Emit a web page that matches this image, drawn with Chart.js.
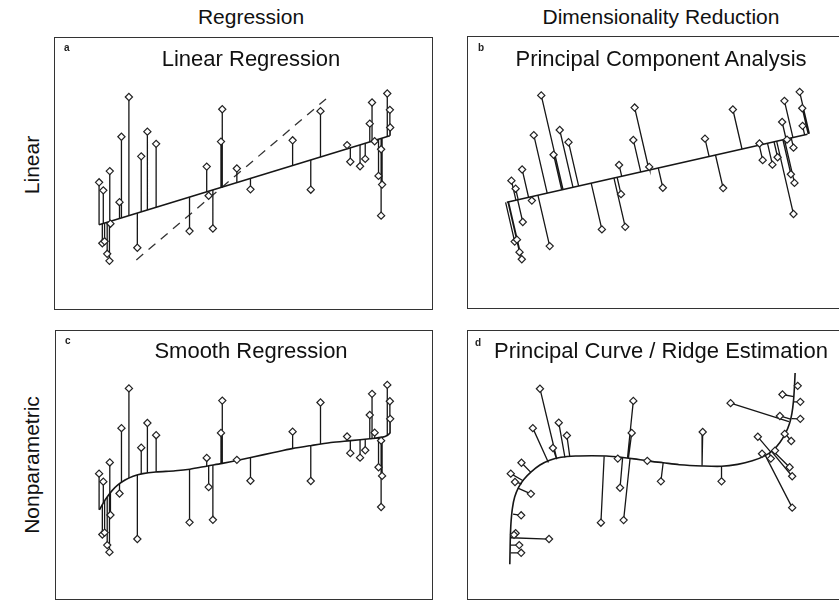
<!DOCTYPE html>
<html>
<head>
<meta charset="utf-8">
<title>Regression and dimensionality reduction</title>
<script src="https://cdn.jsdelivr.net/npm/chart.js@4.4.0/dist/chart.umd.min.js"></script>
<style>
  html, body { margin: 0; padding: 0; background: #fff; }
  body {
    width: 839px; height: 601px; position: relative; overflow: hidden;
    font-family: "Liberation Sans", Arial, sans-serif; color: #111;
  }
  .txt { position: absolute; white-space: nowrap; line-height: 1; }
  .head { font-size: 21px; transform: translateX(-50%); }
  .row { font-size: 21px; transform: translate(-50%, -50%) rotate(-90deg); }
  .title { font-size: 22px; transform: translateX(-50%); }
  .tag { font-size: 10px; font-weight: bold; color: #222; }
  canvas { position: absolute; }
  .frame { position: absolute; box-sizing: border-box; border: 1px solid #333; pointer-events: none; }
</style>
</head>
<body>

<div class="txt head" style="left:251px; top:6px;">Regression</div>
<div class="txt head" style="left:661px; top:6px;">Dimensionality Reduction</div>
<div class="txt row" style="left:31px; top:165px;">Linear</div>
<div class="txt row" style="left:31px; top:465px;">Nonparametric</div>

<canvas id="panelA"></canvas>
<canvas id="panelB"></canvas>
<canvas id="panelC"></canvas>
<canvas id="panelD"></canvas>

<div class="frame" style="left:54px; top:37px; width:379px; height:273px;"></div>
<div class="frame" style="left:467px; top:36px; width:380px; height:273px;"></div>
<div class="frame" style="left:55px; top:330px; width:378px; height:270px;"></div>
<div class="frame" style="left:467px; top:330px; width:380px; height:270px;"></div>

<div class="txt tag" style="left:64px; top:43px;">a</div>
<div class="txt tag" style="left:478px; top:43px;">b</div>
<div class="txt tag" style="left:65px; top:336px;">c</div>
<div class="txt tag" style="left:475px; top:338px;">d</div>

<div class="txt title" style="left:251px; top:48px;">Linear Regression</div>
<div class="txt title" style="left:661px; top:48px;">Principal Component Analysis</div>
<div class="txt title" style="left:251px; top:340px;">Smooth Regression</div>
<div class="txt title" style="left:661px; top:340px;">Principal Curve / Ridge Estimation</div>

<script>
// ---------------------------------------------------------------
// DATA (picture units, y grows downwards)
// ---------------------------------------------------------------

// sample shared by panels a, b, c
const sampleX = [165, 178, 198, 228, 234, 257, 295, 314, 341, 497, 545, 541, 590, 762, 848, 930, 1000, 1007, 1015, 1054, 1062, 1063,
                 175, 182, 190, 197, 200, 283, 444, 503, 516, 632, 818, 940, 970, 986, 1027, 1038, 1035, 1035];
const sampleY = [458, 483, 423, 520, 316, 192, 377, 300, 338, 409, 230, 331, 415, 327, 236, 342, 275, 209, 330, 181, 232, 287,
                 648, 642, 681, 703, 587, 662, 610, 500, 602, 480, 481, 394, 408, 385, 438, 465, 562, 355];

// a: least squares line and the dashed line
const regLineX = [165, 1062];
const regLineY = [590, 313];
const dashLineX = [280, 865];
const dashLineY = [700, 198];

// b: first principal component
const pcaLineX = [151, 1078];
const pcaLineY = [525, 313];

// c: smooth regression curve
const smoothX = [166, 180, 192, 205, 222, 245, 270, 300, 340, 400, 445, 500, 545, 590, 640, 700, 760, 820, 880, 940, 1000, 1040, 1055, 1063];
const smoothY = [571, 546, 528, 511, 494, 478, 466, 458, 453, 449, 444, 434, 426, 417, 406, 393, 380, 370, 361, 355, 349, 344, 338, 331];

// d: sample, its projections on the curve, and the principal curve
const ringX = [290, 268, 348, 330, 373, 233, 200, 213, 262, 232, 215, 210, 318, 226, 232, 478, 530, 537, 548, 573,
               578, 621, 663, 792, 850, 878, 1030, 1093, 1038, 1085, 1093, 1045, 1065, 962, 975, 1002, 1015, 1060, 1068, 1068];
const ringY = [227, 350, 333, 412, 373, 458, 492, 518, 555, 622, 678, 683, 696, 715, 739, 645, 445, 536, 637, 365,
               265, 452, 516, 362, 516, 272, 312, 321, 245, 218, 268, 368, 390, 377, 430, 445, 420, 472, 500, 598];
const ringFootX = [342, 316, 367, 341, 382, 262, 238, 234, 222, 207, 201, 201, 200, 199, 199, 488, 530, 545, 568, 563,
                   560, 621, 670, 790, 850, 1058, 1063, 1066, 1073, 1075, 1072, 1048, 1047, 1002, 985, 998, 1012, 1010, 1006, 985];
const ringFootY = [447, 457, 441, 446, 439, 488, 514, 524, 537, 618, 680, 685, 692, 715, 739, 438, 441, 442, 444, 443,
                   443, 452, 458, 467, 470, 330, 322, 320, 252, 218, 268, 365, 368, 425, 436, 428, 418, 422, 425, 435];
const ridgeX = [197, 198, 199, 201, 205, 212, 224, 240, 262, 290, 320, 355, 400, 450, 495, 540, 580, 620, 670, 720,
                790, 850, 900, 945, 980, 1008, 1030, 1048, 1060, 1067, 1072, 1075, 1077];
const ridgeY = [775, 720, 680, 640, 600, 565, 535, 510, 487, 465, 450, 441, 437, 436, 437, 441, 446, 452, 458, 464,
                468, 469, 463, 452, 438, 420, 395, 365, 335, 305, 265, 220, 178];

// ---------------------------------------------------------------
// helpers
// ---------------------------------------------------------------
const UNIT = 3; // picture units per screen pixel
const INK = "#161616";

const pts = (xs, ys) => xs.map((x, i) => ({ x: x, y: ys[i] }));

// point -> foot segments, broken apart by a null point
function residuals(xs, ys, fx, fy) {
  const out = [];
  xs.forEach((x, i) => {
    out.push({ x: x, y: ys[i] }, { x: fx[i], y: fy[i] }, { x: x, y: null });
  });
  return out;
}

// foot straight below/above on a line or polyline
function verticalFeet(xs, lx, ly) {
  return xs.map(x => {
    if (x <= lx[0]) return ly[0];
    for (let k = 1; k < lx.length; k++) {
      if (x <= lx[k]) {
        const t = (x - lx[k - 1]) / (lx[k] - lx[k - 1]);
        return ly[k - 1] + t * (ly[k] - ly[k - 1]);
      }
    }
    return ly[ly.length - 1];
  });
}

// orthogonal projection on a straight line
function orthoFeet(xs, ys, lx, ly) {
  const dx = lx[1] - lx[0], dy = ly[1] - ly[0];
  const len2 = dx * dx + dy * dy;
  const fx = [], fy = [];
  xs.forEach((x, i) => {
    const t = ((x - lx[0]) * dx + (ys[i] - ly[0]) * dy) / len2;
    fx.push(lx[0] + t * dx);
    fy.push(ly[0] + t * dy);
  });
  return [fx, fy];
}

const pointSet = (xs, ys) => ({
  data: pts(xs, ys), showLine: false, order: 0,
  pointStyle: "rectRot", pointRadius: 3.6,
  pointBackgroundColor: "#fff", pointBorderColor: "#222", pointBorderWidth: 1.2
});
const lineSet = (data, width, extra) => Object.assign({
  data: data, showLine: true, pointRadius: 0,
  borderColor: INK, borderWidth: width, order: 2
}, extra || {});

function drawPanel(id, left, top, w, h, xMin, yMin, datasets) {
  const cv = document.getElementById(id);
  cv.width = w; cv.height = h;
  cv.style.left = left + "px"; cv.style.top = top + "px";
  return new Chart(cv.getContext("2d"), {
    type: "scatter",
    data: { datasets: datasets.map(d => Object.assign({ clip: false }, d)) },
    options: {
      responsive: false,
      animation: false,
      events: [],
      layout: { padding: 0 },
      plugins: { legend: { display: false }, tooltip: { enabled: false } },
      scales: {
        x: { type: "linear", display: false, min: xMin, max: xMin + w * UNIT },
        y: { type: "linear", display: false, min: yMin, max: yMin + h * UNIT, reverse: true }
      }
    }
  });
}

// ---------------------------------------------------------------
// a: linear regression
// ---------------------------------------------------------------
const footA = verticalFeet(sampleX, regLineX, regLineY);
drawPanel("panelA", 54, 37, 379, 273, 42, 21, [
  pointSet(sampleX, sampleY),
  lineSet(residuals(sampleX, sampleY, sampleX, footA), 1.3, { order: 1 }),
  lineSet(pts(regLineX, regLineY), 1.6),
  lineSet(pts(dashLineX, dashLineY), 1.3, { borderDash: [9, 7], borderColor: "#333" })
]);

// ---------------------------------------------------------------
// b: principal component analysis
// ---------------------------------------------------------------
const [footBX, footBY] = orthoFeet(sampleX, sampleY, pcaLineX, pcaLineY);
drawPanel("panelB", 467, 36, 380, 273, 44, 23, [
  pointSet(sampleX, sampleY),
  lineSet(residuals(sampleX, sampleY, footBX, footBY), 1.3, { order: 1 }),
  lineSet(pts(pcaLineX, pcaLineY), 1.6)
]);

// ---------------------------------------------------------------
// c: smooth regression
// ---------------------------------------------------------------
const footC = verticalFeet(sampleX, smoothX, smoothY);
drawPanel("panelC", 55, 330, 378, 270, 45, 26, [
  pointSet(sampleX, sampleY),
  lineSet(residuals(sampleX, sampleY, sampleX, footC), 1.3, { order: 1 }),
  lineSet(pts(smoothX, smoothY), 1.6, { tension: 0.3 })
]);

// ---------------------------------------------------------------
// d: principal curve
// ---------------------------------------------------------------
drawPanel("panelD", 467, 330, 380, 270, 81, 60, [
  pointSet(ringX, ringY),
  lineSet(residuals(ringX, ringY, ringFootX, ringFootY), 1.3, { order: 1 }),
  lineSet(pts(ridgeX, ridgeY), 1.6, { tension: 0.3 })
]);
</script>
</body>
</html>
